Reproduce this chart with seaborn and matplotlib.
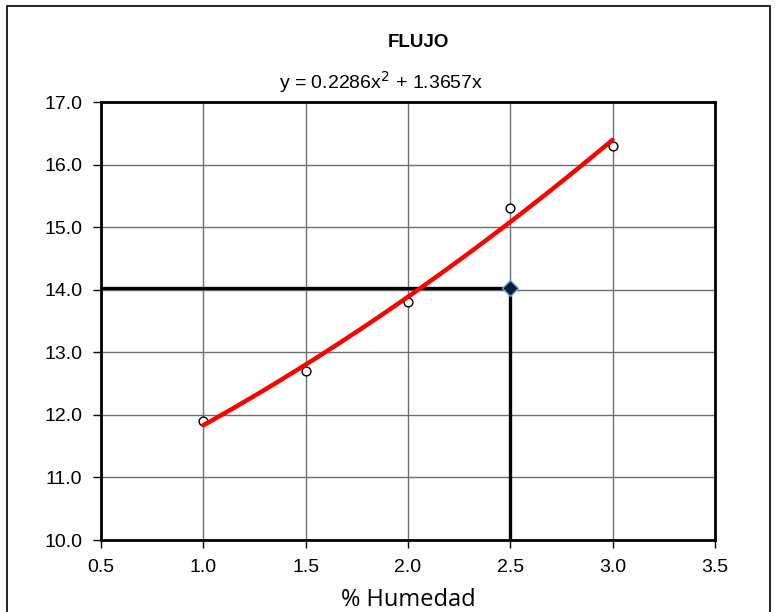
import numpy as np
import pandas as pd
import matplotlib
matplotlib.use("Agg")
import matplotlib.pyplot as plt
import seaborn as sns
from matplotlib.patches import Rectangle

# Data
humedad = [1.0, 1.5, 2.0, 2.5, 3.0]
flujo = [11.9, 12.7, 13.8, 15.3, 16.3]
x_ticks = [0.5, 1.0, 1.5, 2.0, 2.5, 3.0, 3.5]
y_ticks = [10.0, 11.0, 12.0, 13.0, 14.0, 15.0, 16.0, 17.0]
ref_x = 2.5
ref_y = 14.03
title = "FLUJO"
equation = "y = 0.2286x$^{2}$ + 1.3657x"
xlabel = "% Humedad"

sns.set_theme(style="white")
plt.rcParams['font.family'] = ['Liberation Sans', 'DejaVu Sans']
plt.rcParams['text.color'] = 'black'
plt.rcParams['xtick.color'] = 'black'
plt.rcParams['ytick.color'] = 'black'
plt.rcParams['axes.labelcolor'] = 'black'

fig = plt.figure(figsize=(7.77, 6.12), dpi=100)
ax = fig.add_axes([0.130, 0.1176, 0.790, 0.7157])

df = pd.DataFrame({"x": humedad, "y": flujo})

# quadratic trendline fitted to the data
coef = np.polyfit(humedad, flujo, 2)
xs = np.linspace(min(humedad), max(humedad), 200)
trend = pd.DataFrame({"x": xs, "y": np.polyval(coef, xs)})

ax.set_xlim(x_ticks[0], x_ticks[-1])
ax.set_ylim(y_ticks[0], y_ticks[-1])
ax.set_xticks(x_ticks)
ax.set_yticks(y_ticks)
ax.set_xticklabels([f"{v:.1f}" for v in x_ticks])
ax.set_yticklabels([f"{v:.1f}" for v in y_ticks])
ax.grid(True, color="#6e6e78", linewidth=1.0)
ax.set_axisbelow(True)

# reference lines
ax.plot([x_ticks[0], ref_x], [ref_y, ref_y], color="black", lw=2.4, zorder=3, solid_capstyle="butt")
ax.plot([ref_x, ref_x], [y_ticks[0], ref_y], color="black", lw=2.4, zorder=3, solid_capstyle="butt")
ax.plot([ref_x], [ref_y], marker="D", markersize=8, markerfacecolor="#0d1b3a",
        markeredgecolor="#6aa6e0", markeredgewidth=1.0, zorder=6, linestyle="none")

sns.scatterplot(data=df, x="x", y="y", ax=ax, s=40, facecolor="white",
                edgecolor="black", linewidth=1.0, zorder=4)
sns.lineplot(data=trend, x="x", y="y", ax=ax, color="#ff0000", lw=3.2, zorder=5)

for s in ax.spines.values():
    s.set_visible(True)
    s.set_color("black")
    s.set_linewidth(2.0)

ax.tick_params(axis="both", which="both", direction="out", length=5.5, width=1,
               color="black", labelcolor="black", labelsize=14, bottom=True, left=True)
ax.tick_params(axis="x", pad=8)
ax.tick_params(axis="y", pad=8)
ax.set_xlabel(xlabel, fontsize=17, family=["Open Sans", "DejaVu Sans"], labelpad=9, color="black")
ax.set_ylabel("")

fig.text(0.538, 0.931, title, ha="center", va="center", fontsize=13.5, fontweight="bold", color="black")
fig.text(0.490, 0.866, equation, ha="center", va="center", fontsize=14, color="black")

fig.add_artist(Rectangle((0.009, -0.05), 0.982, 1.04, transform=fig.transFigure,
                         fill=False, edgecolor="black", linewidth=1.2))

fig.savefig("out.png", dpi=100)
